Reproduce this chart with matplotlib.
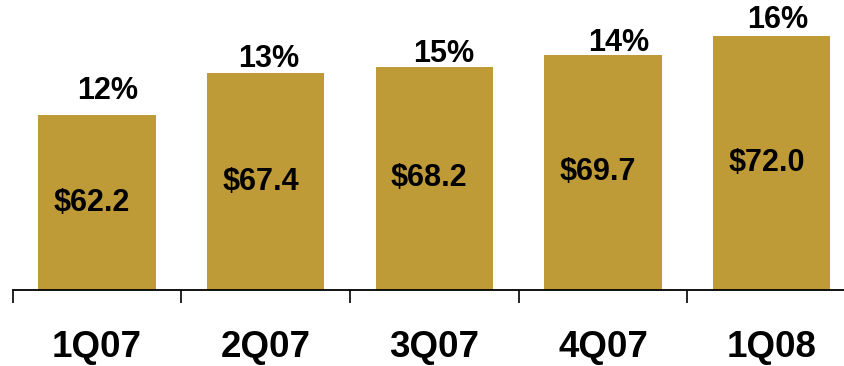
import numpy as np
import matplotlib.pyplot as plt

# dane
quarters = ['1Q07', '2Q07', '3Q07', '4Q07', '1Q08']
values = [62.2, 67.4, 68.2, 69.7, 72.0]
growth = ['12%', '13%', '15%', '14%', '16%']

# przesunięcia etykiet procentowych (piksele)
pct_dx = [11, 3, 9, 16, 6]
pct_dy = [24, 14, 13, 12, 16]

plt.rcParams['font.family'] = ['Liberation Sans', 'DejaVu Sans']
plt.rcParams['font.weight'] = 'bold'

fig = plt.figure(figsize=(8.45, 3.66), dpi=100)
ax = fig.add_axes([12.7 / 845, (366 - 290) / 366, 1 - 12.7 / 845, 290 / 366])

x = np.arange(len(quarters))
bars = ax.bar(x, values, width=0.696, color='#BE9B37', bottom=0)

for i, (b, v) in enumerate(zip(bars, values)):
    mid = (40.5 + v) / 2
    ax.text(b.get_x() + b.get_width() / 2 - 0.03, mid, f'${v:.1f}',
            ha='center', va='center', fontsize=22, fontweight='bold')
    ax.annotate(growth[i], (b.get_x() + b.get_width() / 2, v),
                xytext=(pct_dx[i] * 0.72, pct_dy[i] * 0.72),
                textcoords='offset points', ha='center', va='center',
                fontsize=22, fontweight='bold')

# osie
for s in ['top', 'right', 'left']:
    ax.spines[s].set_visible(False)
ax.spines['bottom'].set_linewidth(1.3)
ax.set_yticks([])
ax.set_xticks(x)
ax.set_xticklabels(quarters, fontsize=26.5, fontweight='bold')
ax.tick_params(axis='x', which='major', length=0, pad=29)
ax.set_xticks(np.arange(-0.5, 4.0, 1), minor=True)
ax.tick_params(axis='x', which='minor', length=9.4, width=1.2, direction='out')

ax.set_xlim(-0.5, 4.434)
ax.set_ylim(40.5, 76.5)

fig.savefig('out.png', dpi=100)
